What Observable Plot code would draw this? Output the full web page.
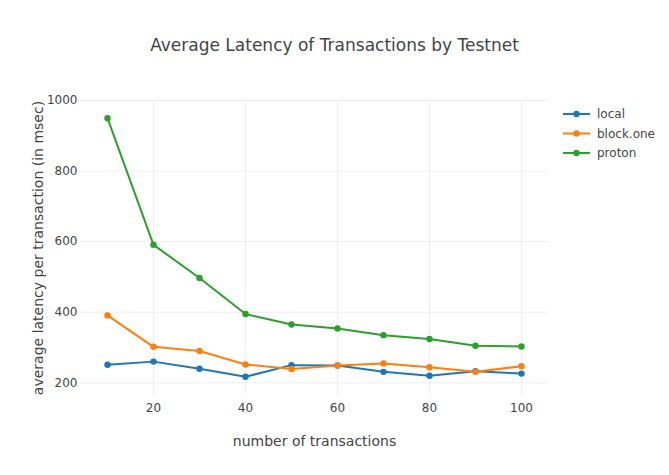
<!DOCTYPE html>
<html>
<head>
<meta charset="utf-8">
<script src="https://cdn.jsdelivr.net/npm/d3@7"></script>
<script src="https://cdn.jsdelivr.net/npm/@observablehq/plot@0.6"></script>
<style>
  html, body { margin: 0; padding: 0; background: #fff; }
  #chart { position: relative; width: 669px; height: 475px; }
</style>
</head>
<body>
<div id="chart"></div>
<script>
const transactions = [10, 20, 30, 40, 50, 60, 70, 80, 90, 100];
const seriesNames = ["local", "block.one", "proton"];
const seriesColors = ["#1f77b4", "#ff7f0e", "#2ca02c"];
const localValues = [251, 260, 240, 217, 250, 249, 231, 220, 233, 226];
const blockOneValues = [391, 302, 290, 252, 239, 249, 255, 244, 231, 247];
const protonValues = [950, 591, 497, 395, 365, 354, 335, 324, 305, 303];
const xTicks = [20, 40, 60, 80, 100];
const yTicks = [200, 400, 600, 800, 1000];
const titleText = "Average Latency of Transactions by Testnet";
const xLabel = "number of transactions";
const yLabel = "average latency per transaction (in msec)";

const FONT = "'DejaVu Sans', Verdana, sans-serif";
const allValues = [localValues, blockOneValues, protonValues];
const data = [];
seriesNames.forEach((s, i) => {
  transactions.forEach((t, j) => data.push({series: s, x: t, y: allValues[i][j]}));
});

const W = 669, H = 475;
const mTop = 100, mBottom = 80, mLeft = 80, mRight = 121;

const plot = Plot.plot({
  width: W,
  height: H,
  marginTop: mTop,
  marginBottom: mBottom,
  marginLeft: mLeft,
  marginRight: mRight,
  style: {fontFamily: FONT, fontSize: "12px", color: "#444", background: "#fff"},
  x: {domain: [4.13, 105.87]},
  y: {domain: [164, 1000]},
  color: {domain: seriesNames, range: seriesColors},
  marks: [
    Plot.gridX(xTicks, {stroke: "#eee", strokeOpacity: 1, strokeWidth: 1}),
    Plot.gridY(yTicks, {stroke: "#eee", strokeOpacity: 1, strokeWidth: 1}),
    Plot.axisX({ticks: xTicks, tickSize: 0, tickPadding: 8, label: null, fill: "#444", fontSize: 12, tickFormat: d => String(d)}),
    Plot.axisY({ticks: yTicks, tickSize: 0, tickPadding: 3, label: null, fill: "#444", fontSize: 12, tickFormat: d => String(d)}),
    Plot.line(data, {x: "x", y: "y", z: "series", stroke: "series", strokeWidth: 2}),
    Plot.dot(data, {x: "x", y: "y", fill: "series", r: 3.2}),
    Plot.text([xLabel], {frameAnchor: "bottom", dy: 50, text: d => d, fontSize: 14, fill: "#444"}),
    Plot.text([yLabel], {frameAnchor: "left", dx: -42, rotate: -90, textAnchor: "middle", text: d => d, fontSize: 14, fill: "#444"})
  ]
});

const svg = d3.select(plot);
svg.append("text")
  .attr("x", W / 2)
  .attr("y", 51)
  .attr("text-anchor", "middle")
  .attr("fill", "#444")
  .style("font-size", "17px")
  .style("font-family", FONT)
  .text(titleText);

const leg = svg.append("g");
seriesNames.forEach((s, i) => {
  const y = 114 + i * 19.5;
  leg.append("line").attr("x1", 563).attr("x2", 590).attr("y1", y).attr("y2", y)
    .attr("stroke", seriesColors[i]).attr("stroke-width", 2);
  leg.append("circle").attr("cx", 576.5).attr("cy", y).attr("r", 3.2).attr("fill", seriesColors[i]);
  leg.append("text").attr("x", 597).attr("y", y).attr("dy", "0.35em")
    .attr("text-anchor", "start")
    .attr("fill", "#444").style("font-size", "12px")
    .style("font-family", FONT).text(s);
});

document.getElementById("chart").appendChild(plot);
</script>
</body>
</html>
